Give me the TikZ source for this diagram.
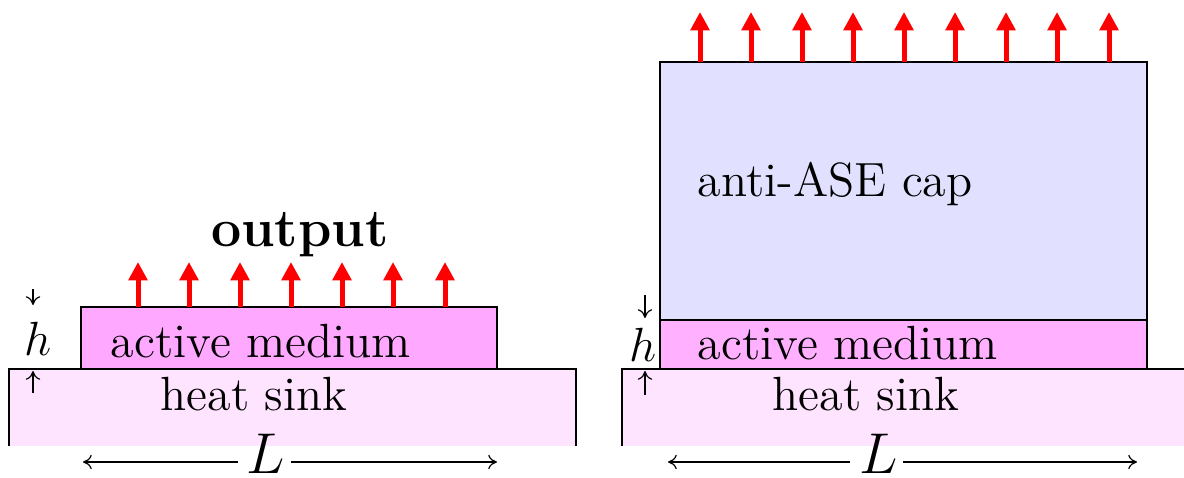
\documentclass[tikz,border=0pt]{standalone}
\usetikzlibrary{arrows.meta}
\definecolor{sinkfill}{RGB}{255,228,255}
\definecolor{medfillL}{RGB}{255,168,255}
\definecolor{medfillR}{RGB}{255,176,255}
\definecolor{capfill}{RGB}{225,225,255}
\tikzset{
  box/.style={draw=black,line width=0.5pt},
  outarrow/.style={draw=red,line width=1.25pt,-{Triangle[width=4.6pt,length=4.6pt]}},
  dimarrow/.style={draw=black,line width=0.3pt,-{To[length=2.2pt,width=3.6pt]}},
  lbl/.style={inner sep=0pt,font=\fontsize{12}{15}\selectfont},
  mlbl/.style={inner sep=0pt,font=\fontsize{13}{16}\selectfont},
}
\begin{document}
\begin{tikzpicture}[x=0.25pt,y=-0.25pt]
\useasboundingbox (0,0) rectangle (1184,478);
% ---------- left panel ----------
\fill[sinkfill] (9,369) rectangle (576,446);
\draw[box] (9,446) -- (9,369) -- (576,369) -- (576,446);
\draw[box,fill=medfillL] (81,307) rectangle (497,369);
\node[lbl,anchor=base] (amL) at (261,358) {active medium};
\node[lbl,anchor=base] (hsL) at (254,411) {heat sink};
\node[inner sep=0pt,anchor=base,font=\fontsize{13.4}{16}\selectfont\bfseries] (outL) at (300,247) {output};
\foreach \i/\x in {1/138,2/189,3/240,4/291,5/342,6/393,7/445}{
  \coordinate (sL\i) at (\x,307);
  \coordinate (eL\i) at (\x,262);
  \draw[outarrow] (sL\i) -- (eL\i);
}
\node[mlbl,anchor=base] (hL) at (38,356) {$h$};
\coordinate (hLa1) at (33,289);
\coordinate (hLa2) at (33,305);
\coordinate (hLb1) at (33,393);
\coordinate (hLb2) at (33,371);
\draw[dimarrow] (hLa1) -- (hLa2);
\draw[dimarrow] (hLb1) -- (hLb2);
\node[mlbl,anchor=base,font=\fontsize{14.5}{16}\selectfont] (LL) at (266,474) {$L$};
\coordinate (LLc) at (238,462);
\coordinate (LLd) at (291,462);
\coordinate (LLa) at (83,462);
\coordinate (LLb) at (497,462);
\draw[dimarrow] (LLc) -- (LLa);
\draw[dimarrow] (LLd) -- (LLb);
% ---------- right panel ----------
\begin{scope}
\clip (0,0) rectangle (1184,478);
\fill[sinkfill] (622,369) rectangle (1190,446);
\draw[box] (622,446) -- (622,369) -- (1190,369);
\end{scope}
\draw[box,fill=capfill] (660,62) rectangle (1147,320);
\draw[box,fill=medfillR] (660,320) rectangle (1147,369);
\node[lbl,anchor=base west] (capR) at (697,197) {anti-ASE cap};
\node[lbl,anchor=base west] (amR) at (697,360) {active medium};
\node[lbl,anchor=base] (hsR) at (866,411) {heat sink};
\foreach \i/\x in {1/700,2/751,3/802,4/853,5/904,6/955,7/1006,8/1057,9/1109}{
  \coordinate (sR\i) at (\x,62);
  \coordinate (eR\i) at (\x,12);
  \draw[outarrow] (sR\i) -- (eR\i);
}
\node[mlbl,anchor=base] (hR) at (643,362) {$h$};
\coordinate (hRa1) at (645,295);
\coordinate (hRa2) at (645,318);
\coordinate (hRb1) at (645,395);
\coordinate (hRb2) at (645,371);
\draw[dimarrow] (hRa1) -- (hRa2);
\draw[dimarrow] (hRb1) -- (hRb2);
\node[mlbl,anchor=base,font=\fontsize{14.5}{16}\selectfont] (LR) at (879,474) {$L$};
\coordinate (LRc) at (850,462);
\coordinate (LRd) at (903,462);
\coordinate (LRa) at (668,462);
\coordinate (LRb) at (1137,462);
\draw[dimarrow] (LRc) -- (LRa);
\draw[dimarrow] (LRd) -- (LRb);
\end{tikzpicture}
\end{document}
